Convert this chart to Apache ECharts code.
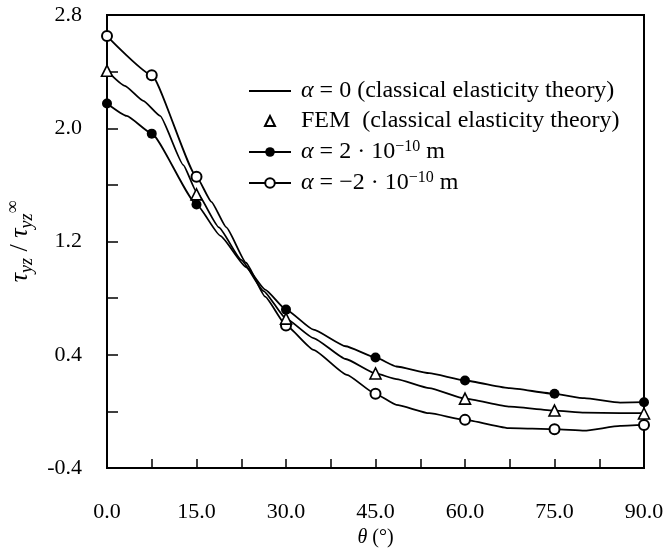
<!DOCTYPE html>
<html>
<head>
<meta charset="utf-8">
<script src="https://cdn.jsdelivr.net/npm/echarts@6/dist/echarts.min.js"></script>
<style>
html,body{margin:0;padding:0;background:#fff;}
#chart{width:664px;height:550px;}
</style>
</head>
<body>
<div id="chart"></div>
<script>
// ---- data ----
var thetaMarkers = [0, 7.5, 15, 30, 45, 60, 75, 90];
var posMarkers   = [2.175, 1.962, 1.462, 0.719, 0.381, 0.218, 0.124, 0.065];   // alpha = 2e-10 m
var negMarkers   = [2.651, 2.375, 1.658, 0.607, 0.124, -0.060, -0.126, -0.096]; // alpha = -2e-10 m

var femTheta = [0, 15, 30, 45, 60, 75, 90];
var femValues = [2.406, 1.533, 0.655, 0.268, 0.090, 0.006, -0.015];

// curve alpha = 0 (no markers)
var zeroLineX = [0, 3, 6.1, 8.9, 12.8, 15, 18.75, 22.5, 26.25, 30, 34.6, 40, 45, 48.5, 54, 60, 67.5, 75, 80, 86, 90, 91.5];
var zeroLineY = [2.406, 2.30, 2.193, 2.087, 1.74, 1.55, 1.30, 1.07, 0.85, 0.655, 0.518, 0.37, 0.268, 0.228, 0.164, 0.090, 0.034, 0.006, -0.009, -0.012, -0.013, -0.013];

// extra curve points between markers
var posLineX = [3.3, 19, 23.3, 26.5, 34.6, 40, 48.5, 54, 67.5, 80, 86, 91.5];
var posLineY = [2.087, 1.24, 1.02, 0.86, 0.577, 0.46, 0.317, 0.27, 0.164, 0.093, 0.062, 0.065];
var negLineX = [17.5, 20, 23.3, 26.5, 34.6, 40.2, 48.5, 54, 67.5, 80, 86, 91.5];
var negLineY = [1.48, 1.30, 1.05, 0.81, 0.435, 0.258, 0.046, -0.013, -0.119, -0.136, -0.103, -0.096];

var xTickLabels = ['0.0', '15.0', '30.0', '45.0', '60.0', '75.0', '90.0'];
var yTickLabels = ['-0.4', '0.4', '1.2', '2.0', '2.8'];

// ---- build ----
function pairs(xs, ys) { return xs.map(function (x, i) { return [x, ys[i]]; }); }
function merged(mx, my, lx, ly) {
  var arr = [];
  mx.forEach(function (x, i) { arr.push({ value: [x, my[i]] }); });
  lx.forEach(function (x, i) { arr.push({ value: [x, ly[i]], symbol: 'none' }); });
  arr.sort(function (a, b) { return a.value[0] - b.value[0]; });
  return arr;
}

var FONT = 'Liberation Serif';
var rich = {
  n: { fontFamily: FONT, fontSize: 24, color: '#000', lineHeight: 26 },
  i: { fontFamily: FONT, fontSize: 24, fontStyle: 'italic', color: '#000', lineHeight: 26 },
  sup: { fontFamily: FONT, fontSize: 16, color: '#000', verticalAlign: 'top', lineHeight: 26, padding: [0, 0, 9, 0] }
};
var legendNames = {
  a0: '{i|α}{n| = 0 (classical elasticity theory)}',
  fem: '{n|FEM  (classical elasticity theory)}',
  apos: '{i|α}{n| = 2 · 10}{sup|−10}{n| m}',
  aneg: '{i|α}{n| = −2 · 10}{sup|−10}{n| m}'
};

var chart = echarts.init(document.getElementById('chart'), null, { renderer: 'canvas' });
var option = {
  backgroundColor: '#fff',
  animation: false,
  grid: { left: 107, right: 20, top: 15, bottom: 82, show: true, borderColor: '#000', borderWidth: 2,
          backgroundColor: 'transparent', containLabel: false, outerBoundsMode: 'none' },
  legend: {
    orient: 'vertical', left: 248, top: 79, padding: 0,
    itemWidth: 42, itemHeight: 12, itemGap: 6, symbolKeepAspect: true,
    data: [
      { name: 'a0', itemStyle: { color: 'rgba(0,0,0,0)', borderWidth: 0 } },
      { name: 'fem', icon: 'path://M0,6L0,6M42,6L42,6M16,11L21,1L26,11Z' },
      { name: 'apos' }, { name: 'aneg' }
    ],
    formatter: function (name) { return legendNames[name]; },
    textStyle: { fontFamily: FONT, fontSize: 24, color: '#000', rich: rich, padding: [0, 0, 0, 5] }
  },
  xAxis: {
    type: 'value', min: 0, max: 90, interval: 7.5,
    name: '{i|θ}{n| (°)}', nameLocation: 'middle', nameGap: 52,
    nameTextStyle: { rich: {
      i: { fontFamily: FONT, fontSize: 20, fontStyle: 'italic', color: '#000' },
      n: { fontFamily: FONT, fontSize: 20, color: '#000' } } },
    axisLine: { onZero: false, lineStyle: { color: '#000', width: 2 } },
    axisTick: { inside: true, length: 9, lineStyle: { color: '#000', width: 1.5 } },
    axisLabel: {
      margin: 33, fontFamily: FONT, fontSize: 22, color: '#000',
      formatter: function (v) { var k = Math.round(v * 10); return k % 150 === 0 ? xTickLabels[k / 150] : ''; }
    },
    splitLine: { show: false }
  },
  yAxis: {
    type: 'value', min: -0.4, max: 2.8, interval: 0.4,
    name: '{i|τ}{sub|yz}{n| / }{i|τ}{sub|yz}{sup|∞}', nameLocation: 'middle', nameRotate: 90, nameGap: 62,
    nameTextStyle: { rich: {
      i: { fontFamily: FONT, fontSize: 26, fontStyle: 'italic', color: '#000', lineHeight: 32 },
      n: { fontFamily: FONT, fontSize: 26, color: '#000', lineHeight: 32 },
      sub: { fontFamily: FONT, fontSize: 18, fontStyle: 'italic', color: '#000', verticalAlign: 'bottom', lineHeight: 32, padding: [8, 0, 0, 0] },
      sup: { fontFamily: FONT, fontSize: 18, color: '#000', verticalAlign: 'top', lineHeight: 32, padding: [0, 0, 10, 0] } } },
    axisLine: { onZero: false, lineStyle: { color: '#000', width: 2 } },
    axisTick: { inside: true, length: 11, lineStyle: { color: '#000', width: 1.5 } },
    axisLabel: {
      margin: 25, fontFamily: FONT, fontSize: 22, color: '#000',
      formatter: function (v) { var k = Math.round((v + 0.4) * 10); return k % 8 === 0 ? yTickLabels[k / 8] : ''; }
    },
    splitLine: { show: false }
  },
  series: [
    {
      name: 'a0', type: 'line', data: pairs(zeroLineX, zeroLineY), symbol: 'none',
      smooth: 0.15, smoothMonotone: 'x', clip: false,
      lineStyle: { color: '#000', width: 1.8 }, itemStyle: { color: '#000' }, z: 2
    },
    {
      name: 'fem', type: 'scatter', data: pairs(femTheta, femValues), symbol: 'triangle', symbolSize: 11,
      itemStyle: { color: '#fff', borderColor: '#000', borderWidth: 1.6, opacity: 1 }, z: 5
    },
    {
      name: 'apos', type: 'line', data: merged(thetaMarkers, posMarkers, posLineX, posLineY),
      symbol: 'circle', symbolSize: 10, showAllSymbol: true, smooth: 0.15, smoothMonotone: 'x', clip: false,
      lineStyle: { color: '#000', width: 1.8 }, itemStyle: { color: '#000' }, z: 3
    },
    {
      name: 'aneg', type: 'line', data: merged(thetaMarkers, negMarkers, negLineX, negLineY),
      symbol: 'emptyCircle', symbolSize: 10, showAllSymbol: true, smooth: 0.15, smoothMonotone: 'x', clip: false,
      lineStyle: { color: '#000', width: 1.8 }, itemStyle: { color: '#000', borderWidth: 1.6 }, z: 4
    }
  ]
};
chart.setOption(option);
</script>
</body>
</html>
